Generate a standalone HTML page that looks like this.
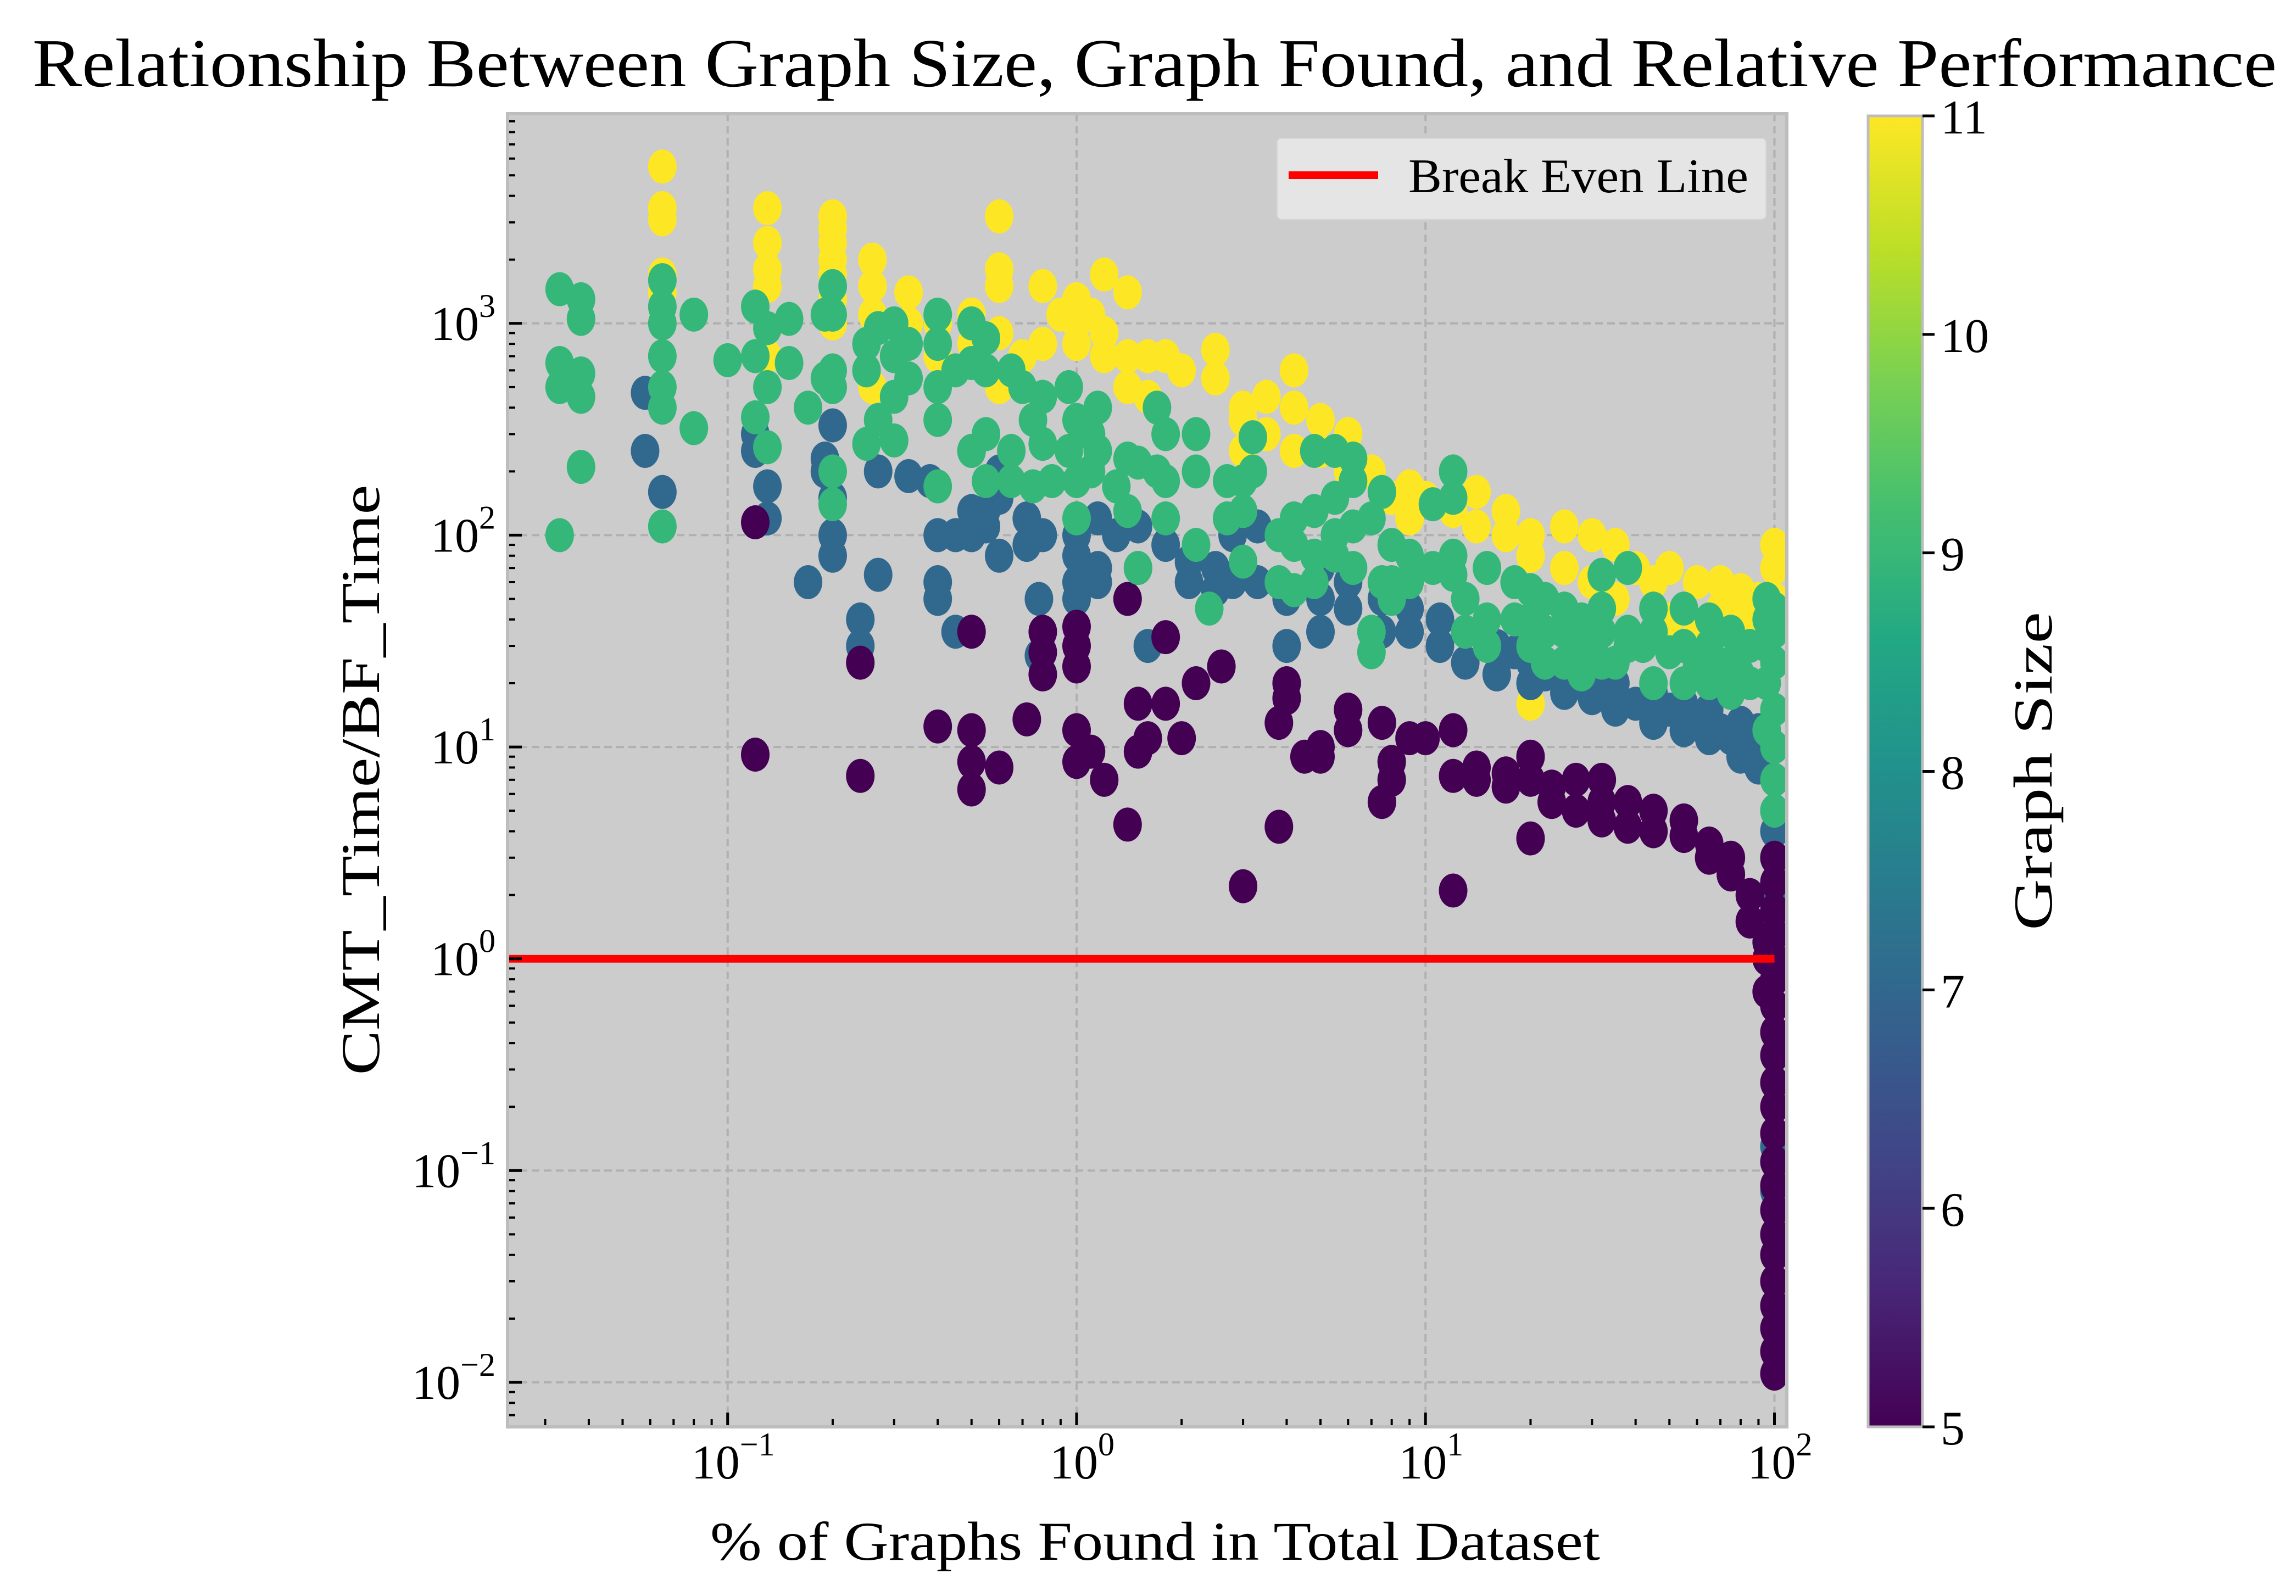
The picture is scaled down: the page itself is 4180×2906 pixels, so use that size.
<!DOCTYPE html>
<html><head><meta charset="utf-8"><style>
html,body{margin:0;padding:0;background:#fff;}
svg{display:block;font-family:"Liberation Serif","DejaVu Serif",serif;}
</style></head><body>
<svg id="chart" width="4180" height="2906" viewBox="0 0 4180 2906" xmlns="http://www.w3.org/2000/svg">
<defs>
<linearGradient id="viridis" x1="0" y1="1" x2="0" y2="0">
<stop offset="0" stop-color="#440154"/><stop offset="0.1" stop-color="#482475"/><stop offset="0.2" stop-color="#414487"/><stop offset="0.3" stop-color="#355f8d"/><stop offset="0.4" stop-color="#2a788e"/><stop offset="0.5" stop-color="#21918c"/><stop offset="0.6" stop-color="#22a884"/><stop offset="0.7" stop-color="#44bf70"/><stop offset="0.8" stop-color="#7ad151"/><stop offset="0.9" stop-color="#bddf26"/><stop offset="1" stop-color="#fde725"/>
</linearGradient>
<clipPath id="plotclip"><rect x="924" y="207" width="2329" height="2391"/></clipPath>
</defs>
<text x="59" y="157" font-size="125" textLength="4086" lengthAdjust="spacingAndGlyphs">Relationship Between Graph Size, Graph Found, and Relative Performance</text>
<rect x="924" y="207" width="2329" height="2391" fill="#cccccc"/>
<g id="grid"></g>
<g id="points" clip-path="url(#plotclip)"></g>
<line id="bel" stroke="#ff0000" stroke-width="14"/>
<g id="ticks"></g>
<rect x="924" y="207" width="2329" height="2391" fill="none" stroke="#bdbdbd" stroke-width="6"/>
<g>
<rect x="2325" y="252" width="890" height="147" rx="8" fill="#e5e5e5" stroke="#d8d8d8" stroke-width="2"/>
<line x1="2346" y1="319" x2="2509" y2="319" stroke="#ff0000" stroke-width="14"/>
<text x="2564" y="350" font-size="88" textLength="619" lengthAdjust="spacingAndGlyphs">Break Even Line</text>
</g>
<text x="2103" y="2840" font-size="100" text-anchor="middle" textLength="1620" lengthAdjust="spacingAndGlyphs">% of Graphs Found in Total Dataset</text>
<text transform="translate(690,1420) rotate(-90)" font-size="100" text-anchor="middle" textLength="1075" lengthAdjust="spacingAndGlyphs">CMT_Time/BF_Time</text>
<rect x="3401" y="211" width="99" height="2387" fill="url(#viridis)" stroke="#bdbdbd" stroke-width="5"/>
<g id="cbticks"></g>
<text transform="translate(3735,1404) rotate(-90)" font-size="100" text-anchor="middle" textLength="580" lengthAdjust="spacingAndGlyphs">Graph Size</text>
</svg>
<script>
// x: % of graphs found, y: CMT_Time/BF_Time
const size11X=[0.065,0.065,0.065,0.065,0.065,0.13,0.13,0.13,0.13,0.13,0.2,0.2,0.2,0.2,0.2,0.2,0.2,0.26,0.26,0.26,0.26,0.33,0.33,0.4,0.4,0.5,0.5,0.6,0.6,0.6,0.6,0.6,0.7,0.8,0.8,0.9,1.0,1.0,1.0,1.1,1.2,1.2,1.2,1.4,1.4,1.4,1.6,1.6,1.8,2.0,2.5,2.5,3,3,3,3.5,3.5,4.2,4.2,4.2,5,5,6,6,7,8,9,9,10,12,12,14,14,17,17,20,20,25,25,30,30,35,35,40,50,50,60,60,70,70,80,90,100,100,100,20,55,45,75,85,95];
const size11Y=[5500,3500,3100,1700,1400,3500,2400,1800,1500,700,3200,2800,2400,2000,1700,1300,1000,2000,1500,1100,500,1400,1000,1000,700,1100,800,3200,1800,1500,900,500,700,1500,800,1100,1300,1000,800,1100,1700,900,700,1400,700,500,700,450,700,600,750,550,400,350,250,450,300,600,400,250,350,250,300,200,200,150,170,120,150,200,130,160,110,130,100,100,80,110,70,100,60,90,50,70,70,40,60,35,60,45,55,50,90,70,50,16,13,60,45,40,35];
const size7X=[0.058,0.058,0.065,0.12,0.12,0.13,0.13,0.17,0.19,0.19,0.2,0.2,0.2,0.2,0.24,0.24,0.27,0.27,0.33,0.38,0.4,0.4,0.4,0.45,0.45,0.5,0.5,0.5,0.55,0.55,0.6,0.6,0.6,0.72,0.72,0.78,0.78,0.8,1.0,1.0,1.0,1.0,1.15,1.15,1.15,1.3,1.5,1.5,1.6,1.8,2.1,2.1,2.5,2.5,2.8,2.8,3.3,3.3,4,4,5,5,5,6,6,7.5,7.5,9,9,11,11,13,13,16,16,20,20,25,25,30,30,35,35,45,45,55,55,65,65,80,80,90,90,100,100,100,100,100,100,100,100,100,100,100,18,22,28,33,40,50,60,70,75,85];
const size7Y=[470,250,160,300,250,170,120,60,230,200,330,150,100,80,40,30,200,65,190,180,100,60,50,100,35,250,130,100,130,110,200,150,80,120,90,50,27,100,100,80,60,50,120,70,60,100,110,70,30,90,75,60,70,55,100,60,110,60,50,30,70,50,35,60,45,50,35,45,35,40,30,35,25,30,22,25,20,25,18,22,17,20,15,18,13,16,12,15,11,13,9,12,8,10,7,5,3,2,1.5,0.9,0.6,0.13,0.08,4,28,22,20,18,16,15,13,12,11,10];
const size5X=[0.12,0.12,0.24,0.24,0.4,0.5,0.5,0.5,0.5,0.6,0.72,0.8,0.8,0.8,1.0,1.0,1.0,1.0,1.0,1.1,1.2,1.4,1.4,1.5,1.5,1.6,1.8,1.8,2.0,2.2,2.6,3.0,3.8,3.8,4,4,4.5,5,5,6,6,7.5,7.5,8,8,9,10,12,12,12,14,14,17,17,20,20,20,23,23,27,27,32,32,32,38,38,45,45,55,55,65,65,75,75,85,85,95,95,95,100,100,100,100,100,100,100,100,100,100,100,100,100,100,100,100,100,100,100,100,100,100];
const size5Y=[115,9.2,25,7.3,12.5,35,12,8.5,6.3,8,13.5,35,28,22,37,30,24,12,8.5,9.5,7,50,4.3,16,9.5,11,33,16,11,20,24,2.2,13,4.2,20,17,9,9,10,15,12,13,5.5,8.5,7,11,11,2.1,7.3,12,8,7,7.5,6.5,3.7,7,9,5.5,6.5,5,7,7,5.5,4.5,4.2,5.5,4,5,3.8,4.5,3,3.5,2.5,3,2,1.5,1.2,1,0.7,0.011,0.014,0.018,0.023,0.03,0.04,0.05,0.065,0.085,0.11,0.15,0.2,0.26,0.35,0.45,0.6,0.8,1.0,1.3,1.7,2.3,3];
const size9X=[0.033,0.033,0.033,0.033,0.038,0.038,0.038,0.038,0.038,0.065,0.065,0.065,0.065,0.065,0.065,0.065,0.08,0.08,0.1,0.12,0.12,0.12,0.13,0.13,0.13,0.15,0.15,0.17,0.19,0.19,0.2,0.2,0.2,0.2,0.2,0.2,0.25,0.25,0.25,0.27,0.27,0.3,0.3,0.3,0.3,0.33,0.33,0.4,0.4,0.4,0.4,0.4,0.45,0.5,0.5,0.5,0.55,0.55,0.55,0.55,0.65,0.65,0.65,0.7,0.75,0.75,0.8,0.8,0.85,0.95,0.95,1.0,1.0,1.0,1.1,1.1,1.15,1.15,1.3,1.4,1.4,1.5,1.5,1.7,1.7,1.8,1.8,1.8,2.2,2.2,2.2,2.4,2.7,2.7,3.0,3.0,3.0,3.2,3.2,3.8,3.8,4.2,4.2,4.2,4.8,4.8,4.8,4.8,5.5,5.5,5.5,5.5,6.2,6.2,6.2,6.2,7,7,7,7.5,7.5,8,8,8,9,9,10.5,10.5,12,12,12,12,13,13,15,15,15,18,18,20,20,20,22,22,22,25,25,25,28,28,28,32,32,32,32,38,38,38,45,45,45,55,55,55,65,65,65,75,75,75,85,85,95,95,95,95,95,100,100,100,100,100,100,100,30,35,42,50,60,70,80];
const size9Y=[1450,650,500,100,1300,1050,580,450,210,1600,1200,1000,700,500,400,110,1100,320,670,1200,700,360,950,500,260,1050,650,400,1100,550,1500,1100,600,500,200,140,800,600,270,950,350,1000,700,450,280,800,550,1100,800,500,350,170,600,1000,650,250,850,600,300,180,600,250,180,500,350,170,450,270,180,500,250,350,180,120,300,200,400,250,170,230,130,220,70,400,200,300,180,120,300,200,90,45,180,120,180,130,75,290,200,100,60,120,90,55,250,130,80,60,250,150,100,80,230,180,110,70,120,28,35,160,60,90,50,60,80,60,140,70,200,150,80,65,50,35,70,40,30,60,40,55,40,30,50,35,25,45,35,25,40,30,22,65,45,35,25,70,35,30,45,35,20,45,30,20,40,30,20,35,25,18,30,20,50,40,30,20,12,45,35,25,15,10,7,5,28,25,30,28,25,22,22];
const yTickExps=[-2,-1,0,1,2,3];
const xTickExps=[-1,0,1,2];
const cbTicks=[5,6,7,8,9,10,11];

const NS='http://www.w3.org/2000/svg';
const L=924,R=3253,T=207,B=2598;
const XMINL=Math.log10(0.0234),XMAXL=Math.log10(108.5);
const YMINL=-2.21,YMAXL=3.99;
function xs(v){return L+(Math.log10(v)-XMINL)/(XMAXL-XMINL)*(R-L);}
function ys(v){return B-(Math.log10(v)-YMINL)/(YMAXL-YMINL)*(B-T);}
function cbY(v){return 2598-(v-5)/6*(2598-211);}
function mk(tag,attrs,parent){const e=document.createElementNS(NS,tag);for(const k in attrs)e.setAttribute(k,attrs[k]);parent.appendChild(e);return e;}

const grid=document.getElementById('grid'),ticks=document.getElementById('ticks');
yTickExps.forEach(function(ex){
  const y=ys(Math.pow(10,ex));
  const g=mk('line',{x1:L,x2:R,y1:y,y2:y,stroke:'#b0b0b0','stroke-width':4,'stroke-dasharray':'14,8'},grid);
  
  
  const t=mk('line',{x1:L,x2:L+26,y1:y,y2:y,stroke:'#000','stroke-width':5},ticks);
  
  
  const tx=mk('text',{x:L-22,y:y+30,'font-size':88,'text-anchor':'end'},ticks);
  
  
  tx.textContent='10';
  const sup=mk('tspan',{'font-size':60,dy:-42},tx);
  sup.textContent=(ex<0?'\u2212'+(-ex):String(ex));
});
for(let ex=-3;ex<=4;ex++){for(let m=2;m<=9;m++){const v=m*Math.pow(10,ex);const y=ys(v);if(y<T+2||y>B-2)continue;
  const t=mk('line',{x1:L,x2:L+14,y1:y,y2:y,stroke:'#000','stroke-width':4},ticks);
  
  }}
xTickExps.forEach(function(ex){
  const x=xs(Math.pow(10,ex));
  const g=mk('line',{x1:x,x2:x,y1:T,y2:B,stroke:'#b0b0b0','stroke-width':4,'stroke-dasharray':'14,8'},grid);
  
  
  const t=mk('line',{x1:x,x2:x,y1:B,y2:B-26,stroke:'#000','stroke-width':5},ticks);
  
  
  const tx=mk('text',{x:x+10,y:2692,'font-size':88,'text-anchor':'middle'},ticks);
  
  
  tx.textContent='10';
  const sup=mk('tspan',{'font-size':60,dy:-42},tx);
  sup.textContent=(ex<0?'\u2212'+(-ex):String(ex));
});
for(let ex=-2;ex<=2;ex++){for(let m=2;m<=9;m++){const v=m*Math.pow(10,ex);const x=xs(v);if(x<L+2||x>R-2)continue;
  const t=mk('line',{x1:x,x2:x,y1:B,y2:B-14,stroke:'#000','stroke-width':4},ticks);
  
  }}

const pts=document.getElementById('points');
function series(X,Y,color,name){
  const g=mk('g',{},pts);
  
  
  for(let i=0;i<X.length;i++){
    const c=mk('ellipse',{cx:xs(X[i]),cy:ys(Y[i]),rx:26,ry:31,fill:color},g);
    
    
  }
}
series(size11X,size11Y,'#fde725','series-size-11');
series(size7X,size7Y,'#31688e','series-size-7');
series(size5X,size5Y,'#440154','series-size-5');
series(size9X,size9Y,'#35b779','series-size-9');

const bel=document.getElementById('bel');
bel.setAttribute('x1',L);bel.setAttribute('x2',xs(100));bel.setAttribute('y1',ys(1));bel.setAttribute('y2',ys(1));

const cb=document.getElementById('cbticks');
cbTicks.forEach(function(v){
  const y=cbY(v);
  const t=mk('line',{x1:3500,x2:3522,y1:y,y2:y,stroke:'#000','stroke-width':5},cb);
  
  
  const tx=mk('text',{x:3533,y:y+32,'font-size':88},cb);
  
  
  tx.textContent=String(v);
});
</script>
</body></html>
